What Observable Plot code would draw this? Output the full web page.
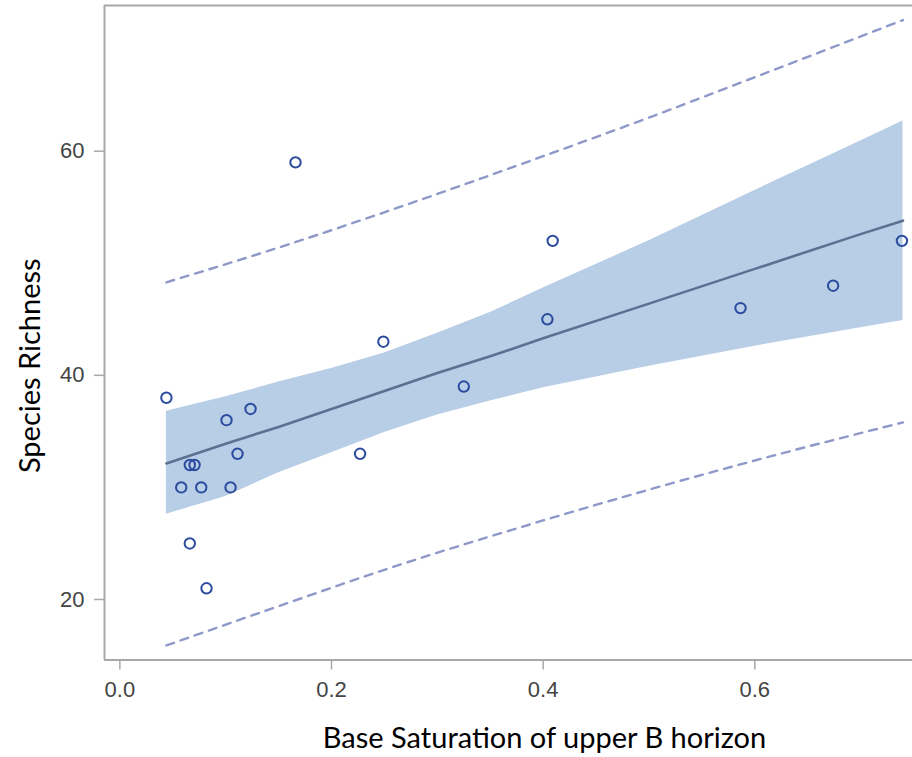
<!DOCTYPE html>
<html>
<head>
<meta charset="utf-8">
<script src="https://cdn.jsdelivr.net/npm/d3@7"></script>
<script src="https://cdn.jsdelivr.net/npm/@observablehq/plot@0.6"></script>
<style>
  html, body { margin: 0; padding: 0; background: #fff; }
  #chart svg { display: block; }
  #chart g[aria-label="x-axis tick label"] text,
  #chart g[aria-label="y-axis tick label"] text { font-size: 22px; font-family: 'Liberation Sans', Arial, sans-serif; }
</style>
</head>
<body>
<div id="chart"></div>
<script>
// Observed points
const baseSat  = [0.044, 0.166, 0.409, 0.739, 0.249, 0.404, 0.5865, 0.674, 0.325, 0.227, 0.1235, 0.1008, 0.1112, 0.0661, 0.0706, 0.058, 0.0769, 0.1046, 0.0661, 0.0819];
const richness = [38, 59, 52, 52, 43, 45, 46, 48, 39, 33, 37, 36, 33, 32, 32, 30, 30, 30, 25, 21];

// Fit line and 95% confidence band
const bandX     = [0.044, 0.10, 0.15, 0.20, 0.25, 0.30, 0.35, 0.40, 0.50, 0.60, 0.70, 0.74];
const fitY      = [32.14, 33.9, 35.4, 37.0, 38.6, 40.2, 41.7, 43.3, 46.4, 49.5, 52.6, 53.8];
const bandUpper = [36.8, 38.1, 39.4, 40.6, 42.0, 43.75, 45.6, 47.8, 52.0, 56.5, 60.9, 62.7];
const bandLower = [27.6, 29.2, 31.3, 33.1, 34.9, 36.45, 37.7, 38.9, 40.8, 42.6, 44.25, 44.9];

// 95% prediction limits
const predX     = [0.044, 0.15, 0.25, 0.40, 0.50, 0.60, 0.74];
const predUpper = [48.3, 51.4, 54.55, 59.55, 63.0, 66.6, 71.7];
const predLower = [15.9, 19.4, 22.65, 27.05, 29.8, 32.4, 35.8];

// Axis ticks
const xTicks = [0, 0.2, 0.4, 0.6];
const yTicks = [20, 40, 60];

const xDomain = [-0.0145, 0.749];
const yDomain = [14.6, 73.0];

const points = baseSat.map((x, i) => ({x, y: richness[i]}));
const band = bandX.map((x, i) => ({x, fit: fitY[i], lo: bandLower[i], hi: bandUpper[i]}));
const pred = predX.map((x, i) => ({x, lo: predLower[i], hi: predUpper[i]}));

const tickFont = "'Liberation Sans', Arial, sans-serif";
const titleFont = "Lato, 'Open Sans', sans-serif";

const chart = Plot.plot({
  width: 912,
  height: 757,
  marginLeft: 104,
  marginRight: 0,
  marginTop: 5,
  marginBottom: 97.5,
  x: {domain: xDomain},
  y: {domain: yDomain},
  style: {background: "#fff"},
  marks: [
    Plot.areaY(band, {x: "x", y1: "lo", y2: "hi", fill: "#b8cde6", fillOpacity: 1}),
    Plot.line(band, {x: "x", y: "fit", stroke: "#5c7191", strokeWidth: 2.6}),
    Plot.line(pred, {x: "x", y: "hi", stroke: "#8f99c9", strokeWidth: 2.4, strokeDasharray: "8,7", curve: "monotone-x"}),
    Plot.line(pred, {x: "x", y: "lo", stroke: "#8f99c9", strokeWidth: 2.4, strokeDasharray: "8,7", curve: "monotone-x"}),
    Plot.dot(points, {x: "x", y: "y", r: 5.2, stroke: "#2b4b9e", strokeWidth: 2, fill: "none"}),
    // frame (left, top, bottom)
    Plot.ruleX([xDomain[0]], {stroke: "#a8a8a8", strokeWidth: 2}),
    Plot.ruleY([yDomain[0], yDomain[1]], {stroke: "#a8a8a8", strokeWidth: 2}),
    Plot.axisX({ticks: xTicks, tickFormat: d3.format(".1f"), tickSize: 10, tickPadding: 11, stroke: "#a8a8a8", strokeWidth: 1.5, fill: "#444", fontSize: 22, fontFamily: tickFont, label: null}),
    Plot.axisY({ticks: yTicks, tickSize: 10, tickPadding: 10, stroke: "#a8a8a8", strokeWidth: 1.5, fill: "#444", fontSize: 22, fontFamily: tickFont, label: null}),
    Plot.text(["Base Saturation of upper B horizon"], {frameAnchor: "bottom", textAnchor: "middle", lineAnchor: "middle", dx: 36, dy: 79, fontSize: 29, fontFamily: titleFont, fill: "#000"}),
    Plot.text(["Species Richness"], {frameAnchor: "left", textAnchor: "middle", lineAnchor: "middle", rotate: -90, dx: -74, dy: 33, fontSize: 29, fontFamily: titleFont, fill: "#000"})
  ]
});
document.getElementById("chart").appendChild(chart);
</script>
</body>
</html>
